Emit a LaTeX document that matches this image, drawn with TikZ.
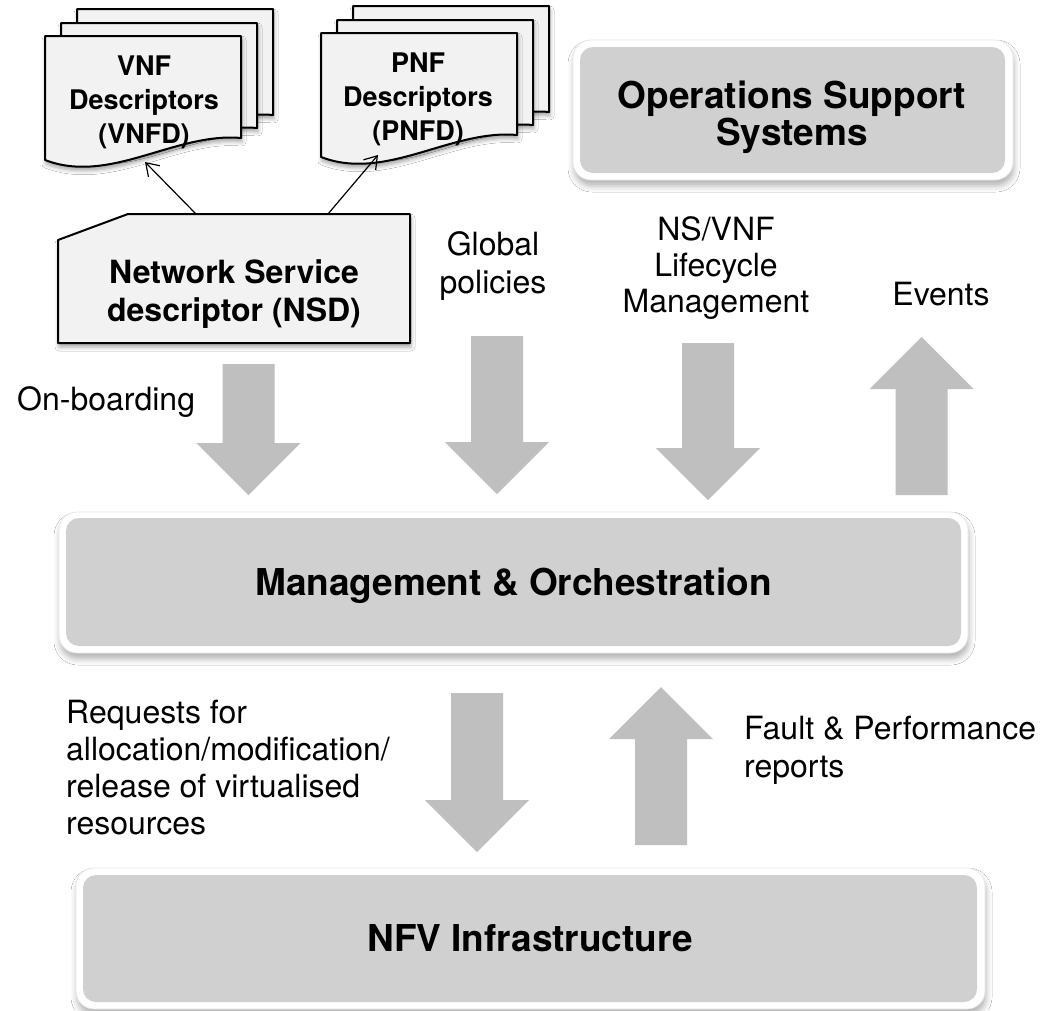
\documentclass[tikz,border=0pt]{standalone}
\usepackage{fontspec}
\setmainfont{TeX Gyre Heros}
\usetikzlibrary{arrows.meta,shadows.blur}

\definecolor{docfill}{HTML}{F2F2F2}
\definecolor{panelgray}{HTML}{D0D0D0}
\definecolor{arrowgray}{HTML}{BFBFBF}
\definecolor{frameedge}{HTML}{E8E8E8}

\tikzset{
  page/.style={fill=docfill, draw=black, line width=2pt, line join=round,
    blur shadow={shadow xshift=1pt, shadow yshift=-4pt, shadow blur radius=4pt, shadow opacity=35}},
  doctext/.style={font=\bfseries\fontsize{27}{34}\selectfont, align=center, inner sep=0pt},
  nsdtext/.style={font=\bfseries\fontsize{32}{38}\selectfont, align=center, inner sep=0pt},
  bigtext/.style={font=\bfseries\fontsize{37}{37}\selectfont, align=center, inner sep=0pt},
  lbl/.style={font=\fontsize{32}{38}\selectfont, inner sep=0pt},
  link/.style={line width=1.2pt, -{Straight Barb[length=12pt,width=16pt]}},
  blockarrow/.style={fill=arrowgray},
  frame/.style={draw=frameedge, line width=0.8pt, fill=white, rounded corners=18pt, inner sep=0pt,
    blur shadow={shadow xshift=1pt, shadow yshift=-6pt, shadow blur radius=6pt, shadow opacity=30}},
  panel/.style={fill=panelgray, rounded corners=13pt, inner sep=0pt},
}

% one sheet of a descriptor stack: x shift, top shift, bottom shift
\newcommand{\docpage}[3]{%
  \filldraw[page] ({45+#1},{36+#2}) -- ({241+#1},{36+#2}) -- ({241+#1},{138+#3})
    .. controls ({175+#1},{132+#3}) and ({110+#1},{185+#3}) .. ({45+#1},{160+#3}) -- cycle;}

% broad grey arrows: centre x, tail y, tip y
\newcommand{\downblock}[3]{%
  \fill[blockarrow] ({#1-26},#2) -- ({#1+26},#2) -- ({#1+26},{#3-52}) -- ({#1+52},{#3-52})
    -- (#1,#3) -- ({#1-52},{#3-52}) -- ({#1-26},{#3-52}) -- cycle;}
\newcommand{\upblock}[3]{%
  \fill[blockarrow] ({#1-26},#2) -- ({#1+26},#2) -- ({#1+26},{#3+52}) -- ({#1+52},{#3+52})
    -- (#1,#3) -- ({#1-52},{#3+52}) -- ({#1-26},{#3+52}) -- cycle;}

\begin{document}
\begin{tikzpicture}[x=1pt,y=-1pt]
  \useasboundingbox (0,0) rectangle (1044,1010);
  \fill[white] (0,0) rectangle (1044,1010);

  % VNF descriptor stack
  \docpage{32}{-27}{-23}
  \docpage{16}{-13}{-10}
  \docpage{0}{0}{0}
  \node[doctext] (vnftext) at (144,102) {VNF\\Descriptors\\(VNFD)};

  % PNF descriptor stack
  \docpage{308}{-30}{-26}
  \docpage{292}{-16}{-13}
  \docpage{276}{-3}{-3}
  \node[doctext] (pnftext) at (418,99) {PNF\\Descriptors\\(PNFD)};

  % network service descriptor (card with a cut corner)
  \filldraw[page] (58,240) -- (128,214) -- (410,214) -- (410,343) -- (58,343) -- cycle;
  \node[nsdtext] (nsdtext) at (234,294) {Network Service\\descriptor (NSD)};

  % references from the NSD to the VNF and PNF descriptors
  \coordinate (nsdL) at (196,214);
  \coordinate (vnfEnd) at (145,162);
  \coordinate (nsdR) at (328,214);
  \coordinate (pnfEnd) at (378,155);
  \draw[link] (nsdL) -- (vnfEnd);
  \draw[link] (nsdR) -- (pnfEnd);

  % operations support systems
  \node[frame, minimum width=440pt, minimum height=140pt] (ossframe) at (793,110) {};
  \node[panel, minimum width=425pt, minimum height=126pt] (oss) at (792.5,110) {};
  \node[bigtext] (osstext) at (792,117) {Operations Support\\Systems};

  % interface labels
  \node[lbl, anchor=base west] (onboard) at (17,410) {On-boarding};
  \node[lbl, align=center] (policies) at (493,266) {Global\\policies};
  \node[lbl, align=center, font=\fontsize{32}{36}\selectfont] (lcm) at (716,268) {NS/VNF\\Lifecycle\\Management};
  \node[lbl, anchor=base] (events) at (941,305) {Events};
  \node[lbl, align=left, anchor=west, font=\fontsize{32}{37.3}\selectfont] (requests) at (66,767.5)
    {Requests for\\allocation/modification/\\release of virtualised\\resources};
  \node[lbl, align=left, anchor=west] (reports) at (744,750) {Fault \& Performance\\reports};

  % broad flow arrows
  \downblock{248.5}{364}{495}
  \downblock{497}{336}{494}
  \downblock{708}{343}{500}
  \upblock{921.5}{495}{337}
  \downblock{477}{693}{852}
  \upblock{661}{845}{687}

  % management and orchestration
  \node[frame, minimum width=909pt, minimum height=141pt] (moframe) at (513.5,582.5) {};
  \node[panel, minimum width=895pt, minimum height=128pt, font=\bfseries\fontsize{37}{37}\selectfont,
    text height=26.6pt, text depth=0pt] (mo) at (513.5,582) {Management \& Orchestration};

  % NFV infrastructure
  \node[frame, minimum width=909pt, minimum height=141pt] (nfvframe) at (530.5,938.5) {};
  \node[panel, minimum width=894pt, minimum height=127pt, font=\bfseries\fontsize{37}{37}\selectfont,
    text height=26.6pt, text depth=0pt] (nfv) at (530,938.5) {NFV Infrastructure};
\end{tikzpicture}
\end{document}
